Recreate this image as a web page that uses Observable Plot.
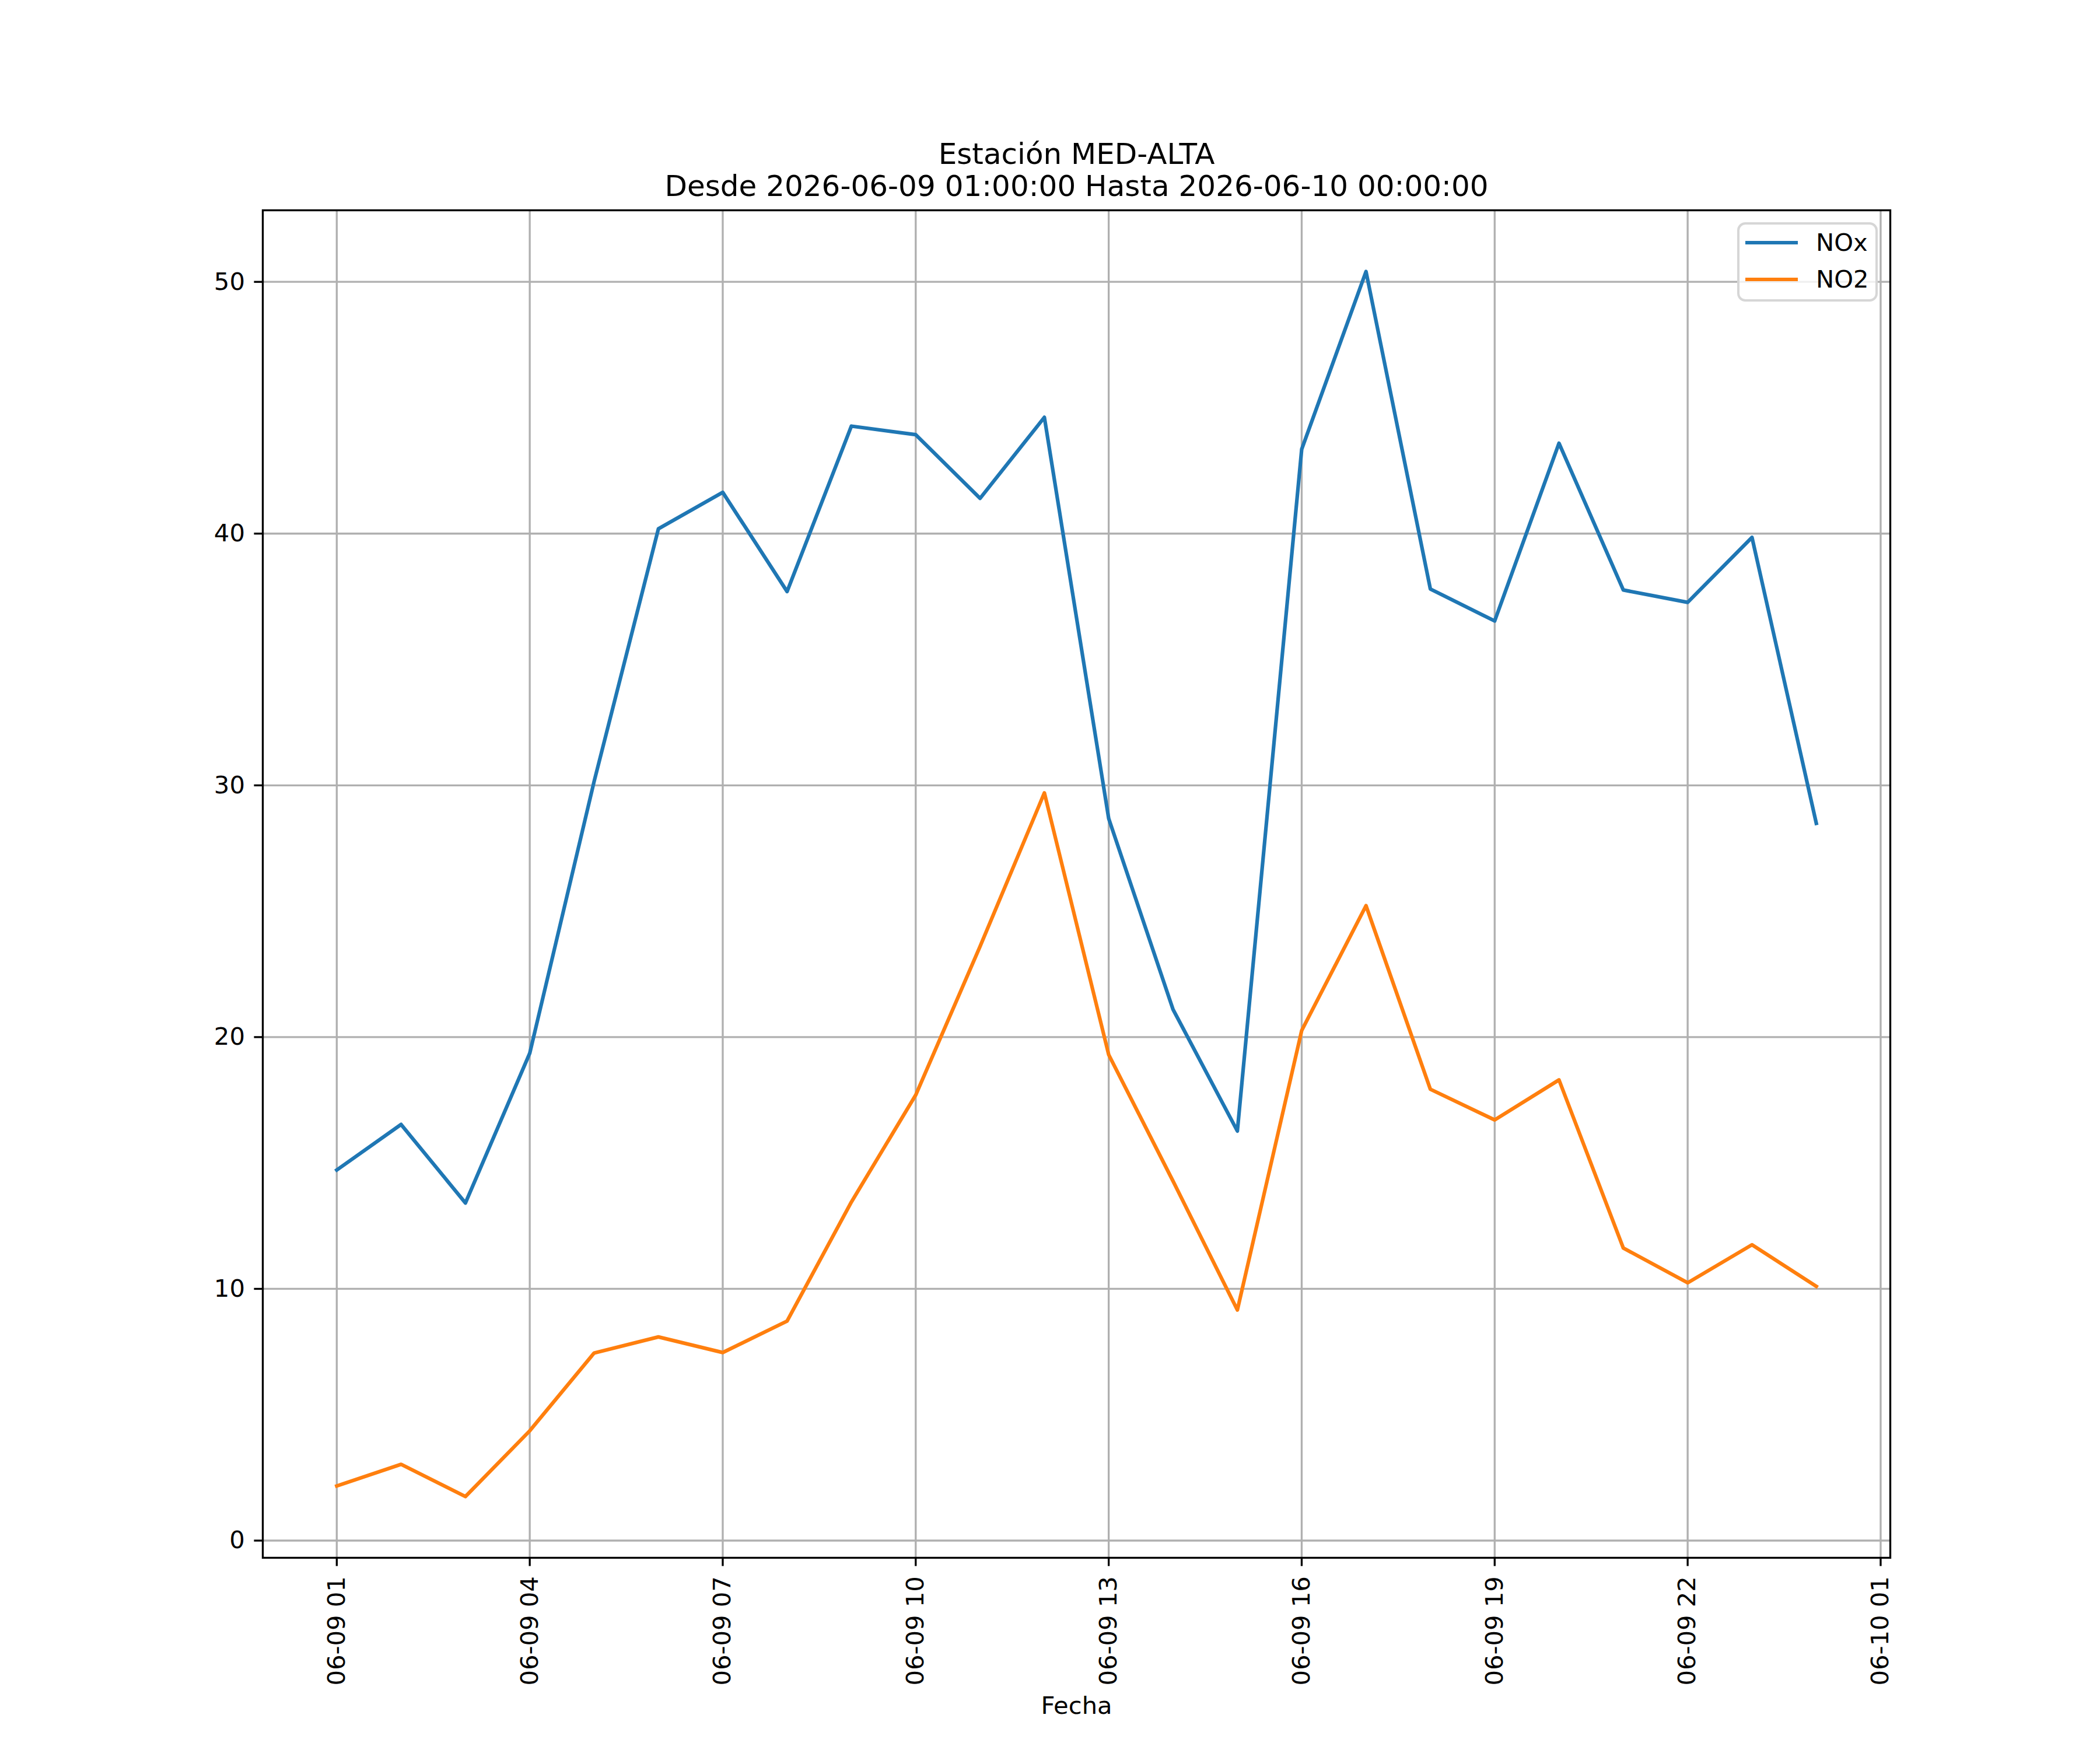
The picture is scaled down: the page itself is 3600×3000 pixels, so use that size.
<!DOCTYPE html>
<html>
<head>
<meta charset="utf-8">
<script src="https://cdn.jsdelivr.net/npm/d3@7"></script>
<script src="https://cdn.jsdelivr.net/npm/@observablehq/plot@0.6"></script>
<style>
html, body { margin: 0; padding: 0; background: #ffffff; }
#wrap { position: relative; width: 3600px; height: 3000px; font-family: "DejaVu Sans", sans-serif; }
#legend { position: absolute; left: 2978px; top: 381px; width: 241px; height: 136px; box-sizing: border-box;
  border: 4px solid #d6d6d6; border-radius: 14px; background: rgba(255,255,255,0.8); }
.row { position: absolute; left: 0; height: 0; width: 100%; }
.handle { position: absolute; left: 10px; width: 90px; height: 6.25px; top: -3.1px; }
.lab { position: absolute; left: 131px; top: 0; font-size: 41.7px; line-height: 1; transform: translateY(-50%); color: #000; white-space: nowrap; }
</style>
</head>
<body>
<div id="wrap"></div>
<script>
// ---- data ----
const fechas = [
  "2026-06-09T01:00:00Z", "2026-06-09T02:00:00Z", "2026-06-09T03:00:00Z", "2026-06-09T04:00:00Z",
  "2026-06-09T05:00:00Z", "2026-06-09T06:00:00Z", "2026-06-09T07:00:00Z", "2026-06-09T08:00:00Z",
  "2026-06-09T09:00:00Z", "2026-06-09T10:00:00Z", "2026-06-09T11:00:00Z", "2026-06-09T12:00:00Z",
  "2026-06-09T13:00:00Z", "2026-06-09T14:00:00Z", "2026-06-09T15:00:00Z", "2026-06-09T16:00:00Z",
  "2026-06-09T17:00:00Z", "2026-06-09T18:00:00Z", "2026-06-09T19:00:00Z", "2026-06-09T20:00:00Z",
  "2026-06-09T21:00:00Z", "2026-06-09T22:00:00Z", "2026-06-09T23:00:00Z", "2026-06-10T00:00:00Z"
];
const nox = [14.72, 16.53, 13.41, 19.36, 30.15, 40.19, 41.64, 37.7, 44.27, 43.93, 41.4, 44.62,
             28.68, 21.1, 16.27, 43.35, 50.41, 37.8, 36.53, 43.59, 37.76, 37.27, 39.85, 28.49];
const no2 = [2.17, 3.03, 1.75, 4.36, 7.45, 8.09, 7.47, 8.72, 13.45, 17.7, 23.6, 29.7,
             19.3, 14.28, 9.16, 20.26, 25.22, 17.93, 16.71, 18.3, 11.62, 10.24, 11.75, 10.1];
const seriesNames = ["NOx", "NO2"];
const seriesColors = ["#1f77b4", "#ff7f0e"];
const xTickDates = [
  "2026-06-09T01:00:00Z", "2026-06-09T04:00:00Z", "2026-06-09T07:00:00Z", "2026-06-09T10:00:00Z",
  "2026-06-09T13:00:00Z", "2026-06-09T16:00:00Z", "2026-06-09T19:00:00Z", "2026-06-09T22:00:00Z",
  "2026-06-10T01:00:00Z"
];
const yTicks = [0, 10, 20, 30, 40, 50];
const titleText = "Estación MED-ALTA\nDesde 2026-06-09 01:00:00 Hasta 2026-06-10 00:00:00";
const xLabel = "Fecha";

// ---- build ----
const dates = fechas.map(d => new Date(d));
const xticks = xTickDates.map(d => new Date(d));
const rows = [];
[nox, no2].forEach((vals, k) => vals.forEach((v, i) => rows.push({fecha: dates[i], valor: v, serie: seriesNames[k]})));

const t0 = d3.min(dates), t1 = d3.max(dates);
const tpad = (t1 - t0) * 0.05;
const allVals = nox.concat(no2);
const vmin = d3.min(allVals), vmax = d3.max(allVals);
const vpad = (vmax - vmin) * 0.05;

const lw = 6.25, thin = 3.33;

const chart = Plot.plot({
  width: 3600,
  height: 3000,
  marginLeft: 450,
  marginRight: 360,
  marginTop: 360,
  marginBottom: 330,
  style: {fontFamily: "DejaVu Sans", background: "white", color: "black", overflow: "visible"},
  x: {type: "utc", domain: [new Date(+t0 - tpad), new Date(+t1 + tpad)]},
  y: {domain: [vmin - vpad, vmax + vpad]},
  color: {domain: seriesNames, range: seriesColors},
  marks: [
    Plot.gridX(xticks, {stroke: "#b0b0b0", strokeOpacity: 1, strokeWidth: thin}),
    Plot.gridY(yTicks, {stroke: "#b0b0b0", strokeOpacity: 1, strokeWidth: thin}),
    Plot.line(rows, {x: "fecha", y: "valor", z: "serie", stroke: "serie", strokeWidth: lw, strokeLinejoin: "round", strokeLinecap: "square"}),
    Plot.frame({stroke: "black", strokeWidth: thin}),
    Plot.axisX(xticks, {
      tickSize: 14.6, tickPadding: 17, tickRotate: -90, fontSize: 41.7,
      tickFormat: d3.utcFormat("%m-%d %H"), strokeWidth: thin, label: null
    }),
    Plot.axisY(yTicks, {
      tickSize: 14.6, tickPadding: 16, fontSize: 41.7, strokeWidth: thin, label: null,
      tickFormat: d => String(d)
    }),
    Plot.text([titleText], {frameAnchor: "top", dy: -25, lineAnchor: "bottom", fontSize: 50, lineHeight: 1.1, fill: "black"}),
    Plot.text([xLabel], {frameAnchor: "bottom", dy: 267, lineAnchor: "bottom", fontSize: 41.7, fill: "black"})
  ]
});

const wrap = document.getElementById("wrap");
wrap.appendChild(chart);

// legend overlay
const legend = document.createElement("div");
legend.id = "legend";
const rowY = [31, 94];
seriesNames.forEach((name, i) => {
  const r = document.createElement("div");
  r.className = "row";
  r.style.top = rowY[i] + "px";
  const h = document.createElement("div");
  h.className = "handle";
  h.style.background = seriesColors[i];
  const t = document.createElement("div");
  t.className = "lab";
  t.textContent = name;
  r.appendChild(h);
  r.appendChild(t);
  legend.appendChild(r);
});
wrap.appendChild(legend);
</script>
</body>
</html>
